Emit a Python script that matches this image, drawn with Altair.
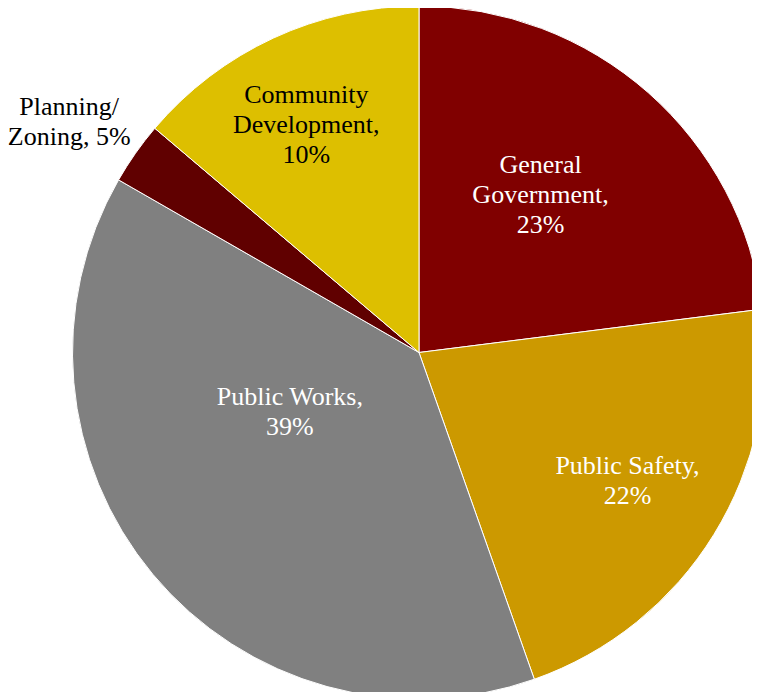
import altair as alt
import pandas as pd

# ---- data ----
categories = ["General Government", "Public Safety", "Public Works",
              "Planning/Zoning", "Community Development"]
shares = [23.0, 21.6, 38.7, 2.9, 13.8]          # drawn slice sizes (%)
labels = ["General\nGovernment,\n23%", "Public Safety,\n22%",
          "Public Works,\n39%", "Planning/\nZoning, 5%",
          "Community\nDevelopment,\n10%"]

# ---- styles ----
colors = ["#800000", "#CC9900", "#808080", "#600000", "#DDBF00"]
label_colors = ["white", "white", "white", "black", "black"]
# label placement: (radius, dx, dy) per category (dy puts the first line)
placement = {
    "General Government": (199, -10, -38),
    "Public Safety": (245, 0, -15),
    "Public Works": (142, -20, -46),
    "Planning/Zoning": (419, -7, -5),
    "Community Development": (254, -6, -27),
}

df = pd.DataFrame({"category": categories, "share": shares,
                   "label": labels, "idx": list(range(len(categories)))})

CX, CY, R = 411, 344.5, 346.5
FONT = "Times New Roman, Liberation Serif, serif"

base = alt.Chart(df)

pie = base.mark_arc(outerRadius=R, stroke="white", strokeWidth=1).encode(
    theta=alt.Theta("share:Q", stack=True),
    color=alt.Color("category:N",
                    scale=alt.Scale(domain=categories, range=colors),
                    legend=None),
    order=alt.Order("idx:Q"),
    x=alt.value(CX),
    y=alt.value(CY),
)

lab_base = base.transform_joinaggregate(
    total="sum(share)"
).transform_window(
    cum="sum(share)",
    sort=[alt.SortField("idx", order="ascending")],
    frame=[None, 0],
).transform_calculate(
    mid="2*PI*(datum.cum - datum.share/2)/datum.total"
)

layers = [pie]
for cat, col in zip(categories, label_colors):
    r, dx, dy = placement[cat]
    layers.append(
        lab_base.transform_filter(alt.datum.category == cat).mark_text(
            radius=r, dx=dx, dy=dy, font=FONT, fontSize=26, lineHeight=30,
            lineBreak="\n", color=col, align="center", baseline="middle",
        ).encode(
            theta=alt.Theta("mid:Q", scale=None, stack=False),
            text="label:N",
            x=alt.value(CX),
            y=alt.value(CY),
        )
    )

chart = alt.layer(*layers).properties(
    width=744, height=684, padding=0,
    autosize=alt.AutoSizeParams(type="none"),
    background="white",
).configure_view(stroke=None)

chart.save("out.html", embed_options={"renderer": "svg", "actions": False})
